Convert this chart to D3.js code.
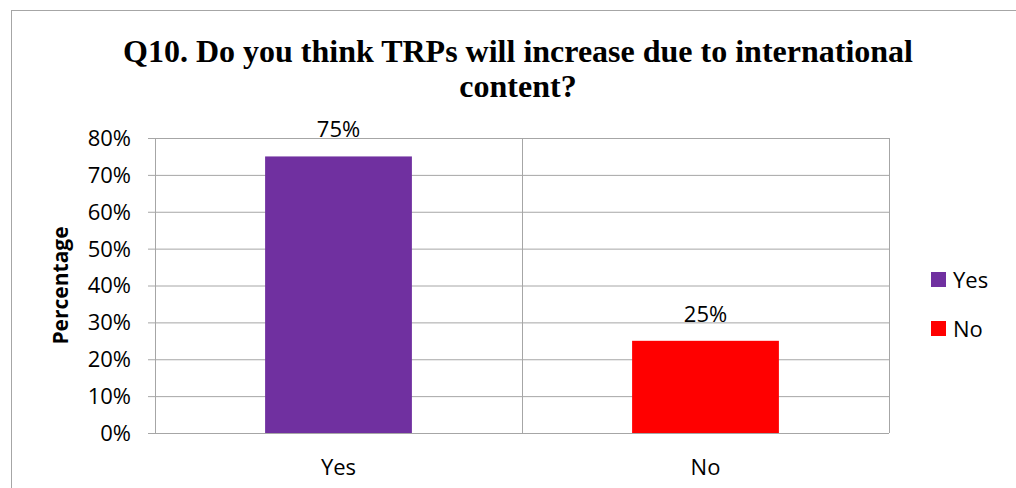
<!DOCTYPE html>
<html>
<head>
<meta charset="utf-8">
<script src="https://cdn.jsdelivr.net/npm/d3@7"></script>
<style>
  body { margin: 0; background: #fff; }
  text { font-family: "Open Sans", "Noto Sans", sans-serif; }
</style>
</head>
<body>
<div id="chart"></div>
<script>
// chart data
var categories = ["Yes", "No"];
var values = [0.75, 0.25];
var colors = ["#7030A0", "#FF0000"];
var yTicks = [0, 0.1, 0.2, 0.3, 0.4, 0.5, 0.6, 0.7, 0.8];
var titleLines = ["Q10. Do you think TRPs will increase due to international", "content?"];

var W = 1016, H = 488;
var plot = {left: 155, top: 138, right: 889, bottom: 433};

var svg = d3.select("#chart").append("svg")
    .attr("width", W)
    .attr("height", H);

// outer chart border (runs off the right and bottom edges)
svg.append("rect")
    .attr("x", 11.5).attr("y", 10.5)
    .attr("width", 1020).attr("height", 500)
    .attr("fill", "#fff")
    .attr("stroke", "#a6a6a6")
    .attr("stroke-width", 1);

// scales
var x = d3.scaleBand().domain(categories).range([plot.left, plot.right]).paddingInner(0).paddingOuter(0);
var y = d3.scaleLinear().domain([0, 0.8]).range([plot.bottom, plot.top]);

// horizontal grid lines + tick marks
svg.append("g")
    .attr("transform", "translate(" + plot.left + ",0)")
    .call(d3.axisLeft(y).tickValues(yTicks).tickSize(-(plot.right - plot.left)).tickFormat(""))
    .call(function(g) {
      g.select(".domain").remove();
      g.selectAll("line").attr("stroke", "#a6a6a6").attr("x1", -7);
    });

// tick labels
svg.append("g").selectAll("text")
    .data(yTicks)
  .enter().append("text")
    .attr("x", 131)
    .attr("y", function(d) { return y(d); })
    .attr("dy", "0.36em")
    .attr("text-anchor", "end")
    .style("font-size", "22px")
    .attr("fill", "#000")
    .text(function(d) { return d3.format(".0%")(d); });

// vertical lines: left axis, category divider, right edge
var vlines = [plot.left, x(categories[1]), plot.right];
svg.append("g").selectAll("line")
    .data(vlines)
  .enter().append("line")
    .attr("x1", function(d) { return d + 0.5; })
    .attr("x2", function(d) { return d + 0.5; })
    .attr("y1", plot.top)
    .attr("y2", plot.bottom)
    .attr("stroke", "#a6a6a6");

// bars
var barW = x.bandwidth() * 0.4;
svg.append("g").selectAll("rect")
    .data(values)
  .enter().append("rect")
    .attr("x", function(d, i) { return x(categories[i]) + (x.bandwidth() - barW) / 2; })
    .attr("y", function(d) { return y(d); })
    .attr("width", barW)
    .attr("height", function(d) { return plot.bottom - y(d); })
    .attr("fill", function(d, i) { return colors[i]; });

// value labels
svg.append("g").selectAll("text")
    .data(values)
  .enter().append("text")
    .attr("x", function(d, i) { return x(categories[i]) + x.bandwidth() / 2; })
    .attr("y", function(d) { return y(d) - 19; })
    .attr("text-anchor", "middle")
    .style("font-size", "22px")
    .text(function(d) { return d3.format(".0%")(d); });

// category labels
svg.append("g").selectAll("text")
    .data(categories)
  .enter().append("text")
    .attr("x", function(d) { return x(d) + x.bandwidth() / 2; })
    .attr("y", 475)
    .attr("text-anchor", "middle")
    .style("font-size", "22px")
    .text(function(d) { return d; });

// title
svg.append("g").selectAll("text")
    .data(titleLines)
  .enter().append("text")
    .attr("x", 518)
    .attr("y", function(d, i) { return 62 + i * 35; })
    .attr("text-anchor", "middle")
    .style("font-family", "'Liberation Serif', 'Times New Roman', serif")
    .style("font-weight", "bold")
    .style("font-size", "32px")
    .text(function(d) { return d; });

// y axis label
svg.append("text")
    .attr("transform", "translate(68," + ((plot.top + plot.bottom) / 2) + ") rotate(-90)")
    .attr("text-anchor", "middle")
    .style("font-weight", "bold")
    .style("font-size", "21px")
    .text("Percentage");

// legend
var legend = svg.append("g").selectAll("g")
    .data(categories)
  .enter().append("g")
    .attr("transform", function(d, i) { return "translate(931," + (272 + i * 49) + ")"; });
legend.append("rect")
    .attr("width", 15).attr("height", 15)
    .attr("fill", function(d, i) { return colors[i]; });
legend.append("text")
    .attr("x", 22)
    .attr("y", 16)
    .style("font-size", "22px")
    .text(function(d) { return d; });
</script>
</body>
</html>
